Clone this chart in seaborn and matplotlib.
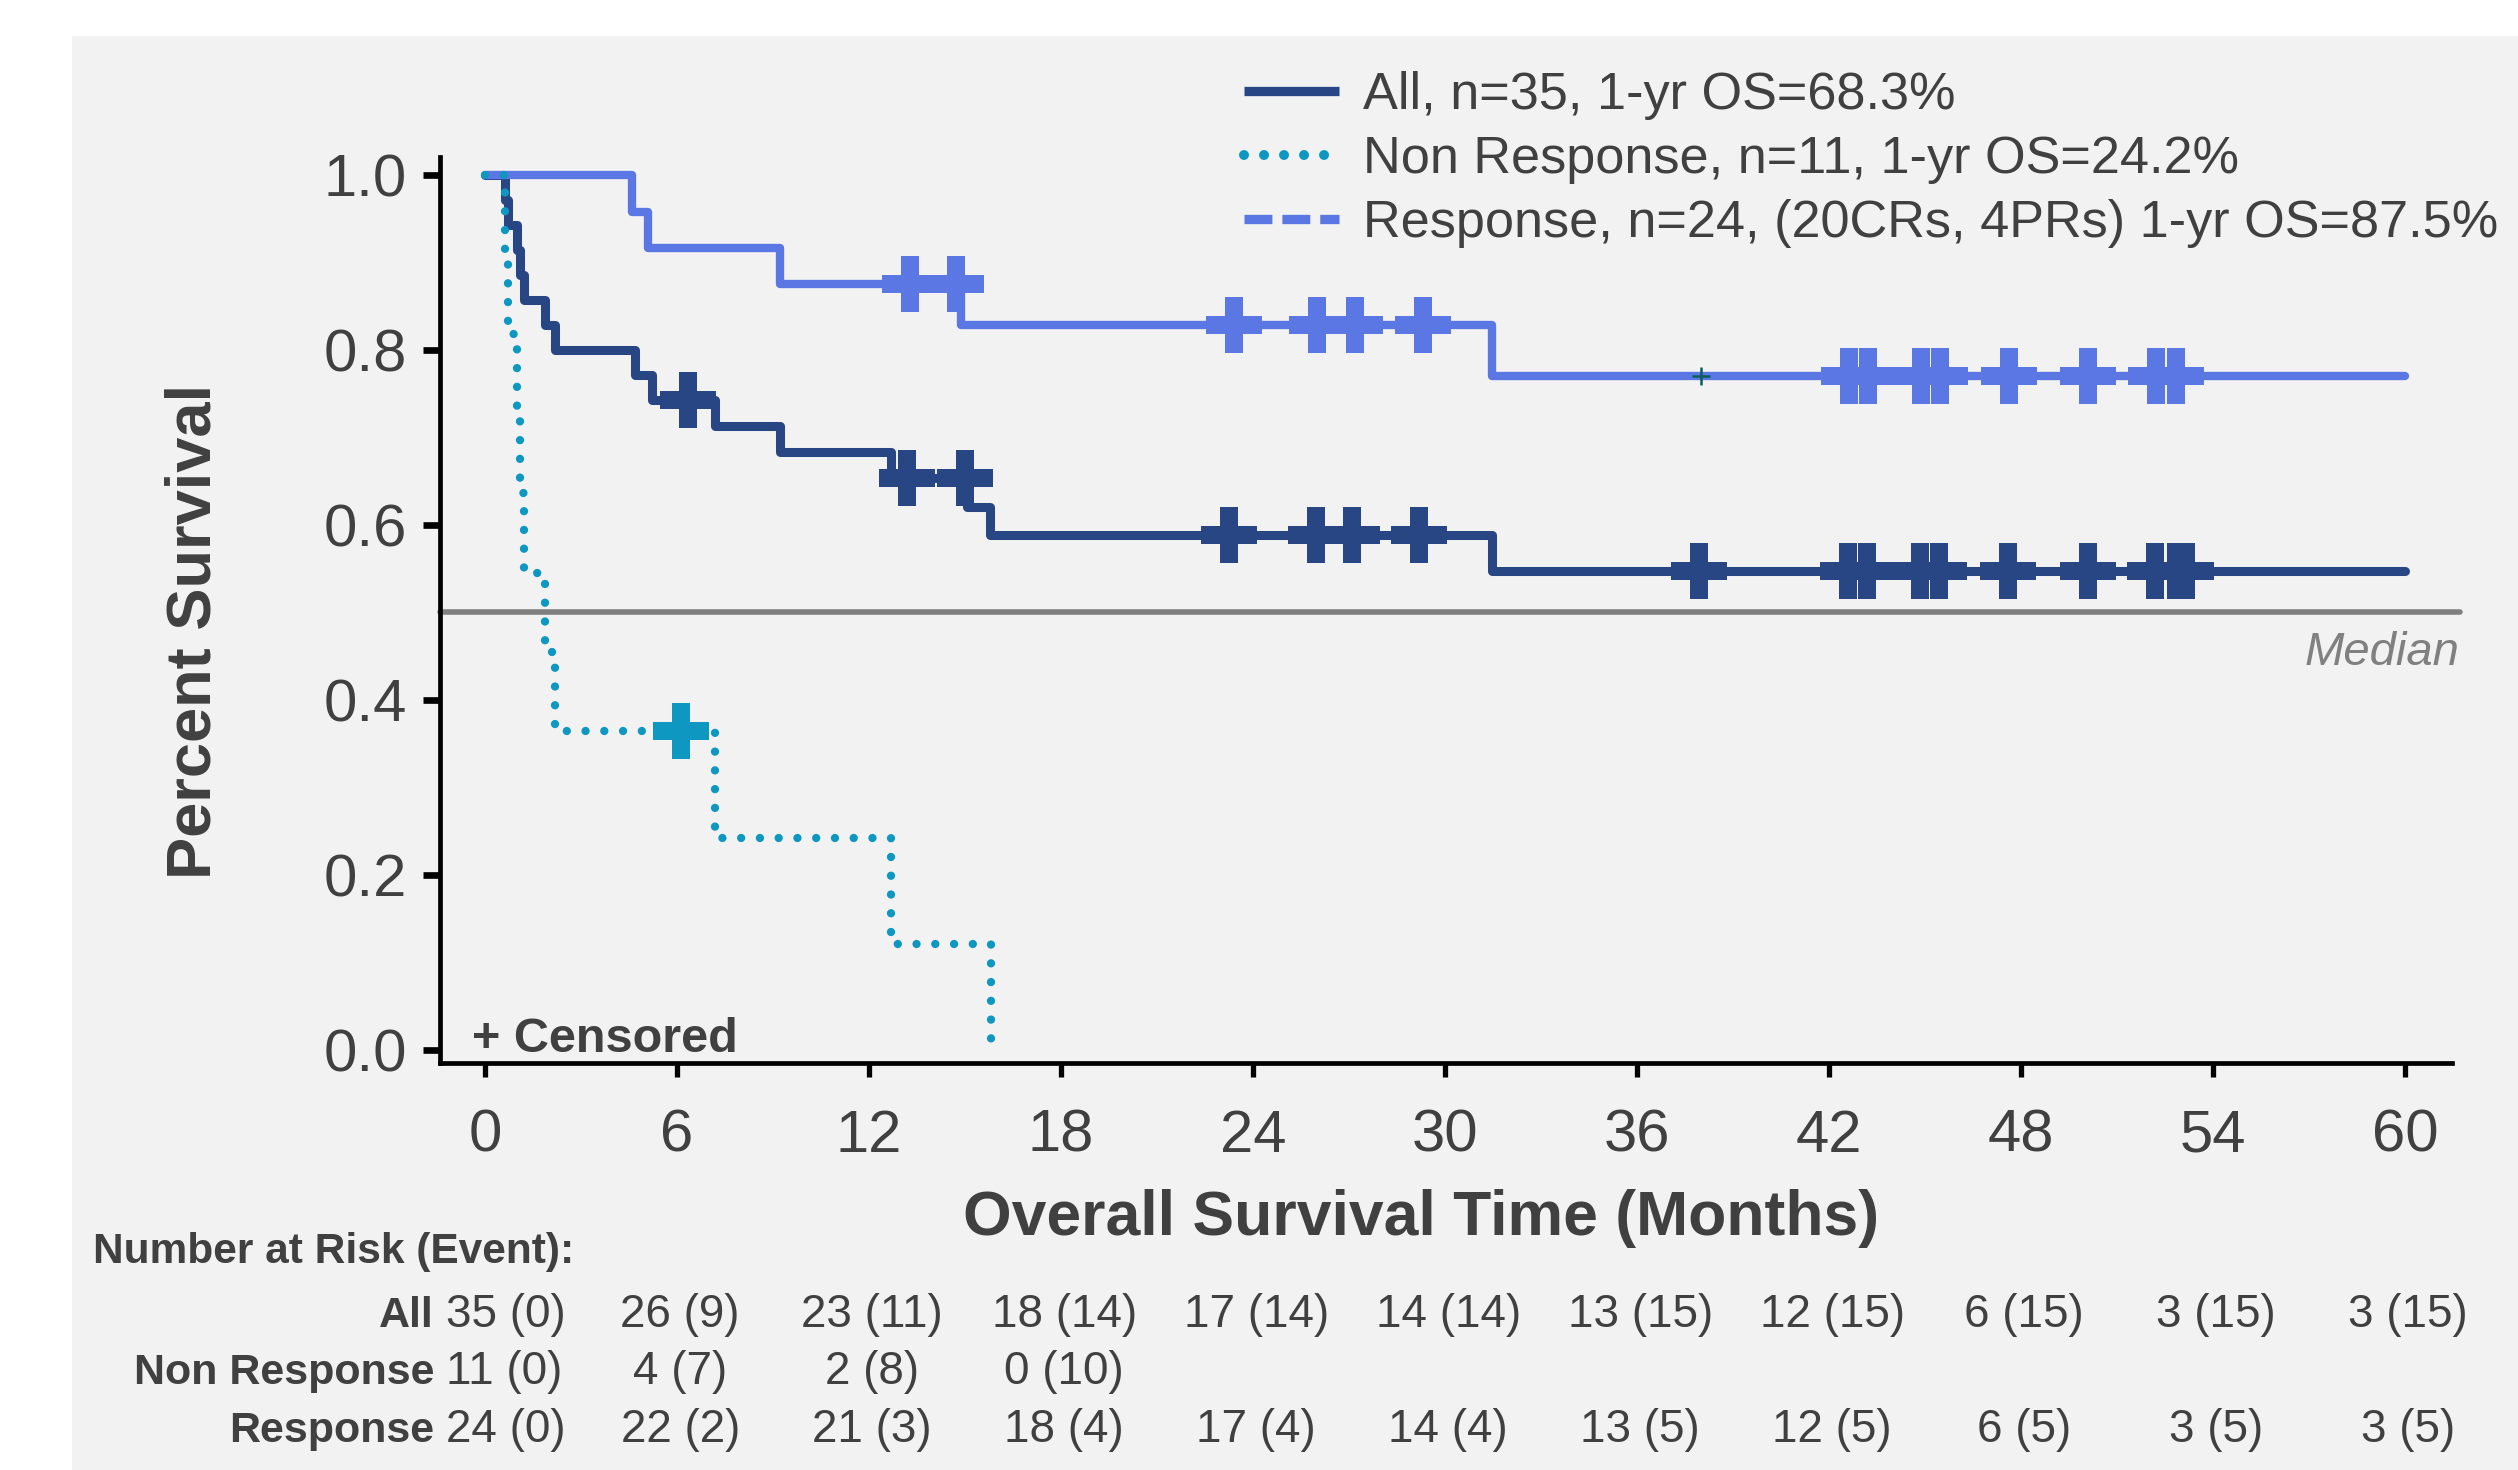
import numpy as np
import matplotlib
matplotlib.use("Agg")
import matplotlib.pyplot as plt
import seaborn as sns
from matplotlib.lines import Line2D
from matplotlib.patches import Rectangle
from matplotlib.transforms import blended_transform_factory

# ---------------- data ----------------
# Kaplan-Meier step curves: time of each step (months) and survival after the step
all_t = [0, 0.64, 0.71, 1.0, 1.09, 1.23, 1.86, 2.2, 4.7, 5.23, 7.19, 9.21, 12.7, 15.07, 15.77, 31.47, 60]
all_s = [1.0, 0.971, 0.943, 0.914, 0.886, 0.857, 0.829, 0.800, 0.771, 0.743, 0.713, 0.683, 0.654, 0.621, 0.589, 0.547, 0.547]

nr_t = [0, 0.64, 0.71, 1.0, 1.09, 1.23, 1.86, 2.2, 7.2, 12.68, 15.8]
nr_s = [1.0, 0.909, 0.818, 0.727, 0.636, 0.545, 0.455, 0.364, 0.242, 0.121, 0.0]

resp_t = [0, 4.6, 5.09, 9.21, 14.86, 31.47, 60]
resp_s = [1.0, 0.958, 0.917, 0.875, 0.829, 0.770, 0.770]

# censoring times (months)
all_cens = [6.35, 13.18, 15.0, 23.26, 25.96, 27.08, 29.19, 37.95, 42.6, 43.2, 44.85,
            45.45, 47.6, 50.1, 52.2, 52.85, 53.15]
nr_cens = [6.14]
resp_cens = [13.27, 14.71, 23.4, 26.0, 27.2, 29.3, 42.63, 43.23, 44.86, 45.47, 47.64,
             50.09, 52.23, 52.83]
resp_cens_faint = [38.0]

# number at risk table
risk_times = [0, 6, 12, 18, 24, 30, 36, 42, 48, 54, 60]
all_risk = [35, 26, 23, 18, 17, 14, 13, 12, 6, 3, 3]
all_events = [0, 9, 11, 14, 14, 14, 15, 15, 15, 15, 15]
nr_risk = [11, 4, 2, 0]
nr_events = [0, 7, 8, 10]
resp_risk = [24, 22, 21, 18, 17, 14, 13, 12, 6, 3, 3]
resp_events = [0, 2, 3, 4, 4, 4, 5, 5, 5, 5, 5]

legend_labels = ["All, n=35, 1-yr OS=68.3%",
                 "Non Response, n=11, 1-yr OS=24.2%",
                 "Response, n=24, (20CRs, 4PRs) 1-yr OS=87.5%"]
row_labels = ["All", "Non Response", "Response"]
y_ticks = [0.0, 0.2, 0.4, 0.6, 0.8, 1.0]

# ---------------- style ----------------
C_ALL = "#284584"
C_NR = "#0e97c1"
C_RESP = "#5b77e3"
TXT = "#404040"
PANEL = "#f2f2f2"

sns.set_theme(style="ticks")
plt.rcParams["font.family"] = ["Liberation Sans", "DejaVu Sans"]

W, H, DPI = 2518, 1470, 100
fig = plt.figure(figsize=(W / DPI, H / DPI), dpi=DPI, facecolor="white")


def fx(p):
    return p / W


def fy(p):
    return 1 - p / H


fig.patches.append(Rectangle((fx(72), 0), 1 - fx(72), fy(36), transform=fig.transFigure,
                             facecolor=PANEL, edgecolor="none", zorder=-10))

ax = fig.add_axes([fx(439.5), fy(1063), fx(2451.7) - fx(439.5), fy(157) - fy(1063)])
ax.set_facecolor("none")


def levels(t, s, c):
    idx = np.searchsorted(np.asarray(t), np.asarray(c), side="right") - 1
    return np.asarray(s)[idx]


ax.axhline(0.5, xmin=0, xmax=1.004, color="#808080", lw=4, zorder=1, clip_on=False)

sns.lineplot(x=all_t, y=all_s, ax=ax, drawstyle="steps-post", estimator=None, sort=False,
             color=C_ALL, linewidth=6.5, zorder=2, legend=False)
sns.scatterplot(x=all_cens, y=levels(all_t, all_s, all_cens), ax=ax, marker="P", s=1600,
                color=C_ALL, linewidth=0, zorder=2.5, legend=False)

sns.lineplot(x=resp_t, y=resp_s, ax=ax, drawstyle="steps-post", estimator=None, sort=False,
             color=C_RESP, linewidth=6.0, zorder=3, legend=False)
sns.scatterplot(x=resp_cens, y=levels(resp_t, resp_s, resp_cens), ax=ax, marker="P", s=1600,
                color=C_RESP, linewidth=0, zorder=3.5, legend=False)
sns.scatterplot(x=resp_cens_faint, y=levels(resp_t, resp_s, resp_cens_faint), ax=ax,
                marker="+", s=150, color="#0b5e5b", linewidth=1.8, zorder=3.6, legend=False)

sns.lineplot(x=nr_t, y=nr_s, ax=ax, drawstyle="steps-post", estimator=None, sort=False,
             color=C_NR, linewidth=6.0, zorder=4, legend=False)
nr_line = ax.lines[-1]
nr_line.set_linestyle((0, (0.001, 2.25)))
nr_line.set_dash_capstyle("round")
sns.scatterplot(x=nr_cens, y=levels(nr_t, nr_s, nr_cens), ax=ax, marker="P", s=1600,
                color=C_NR, linewidth=0, zorder=4.5, legend=False)

# axes
ax.set_xlim(-1.422, 61.46)
ax.set_ylim(-0.01486, 1.02057)
ax.set_xticks(risk_times)
ax.set_yticks(y_ticks)
ax.set_yticklabels([f"{v:.1f}" for v in y_ticks])
sns.despine(ax=ax)
for side in ("left", "bottom"):
    ax.spines[side].set_linewidth(3.4)
    ax.spines[side].set_color("black")
ax.tick_params(axis="x", length=10, width=3.8, pad=23, labelsize=43, labelcolor=TXT,
               color="black", direction="out")
ax.tick_params(axis="y", length=12.6, width=4.8, pad=10.8, labelsize=43, labelcolor=TXT,
               color="black", direction="out")
ax.grid(False)

ax.set_xlabel("Overall Survival Time (Months)", fontsize=45, fontweight="bold", color=TXT)
ax.xaxis.set_label_coords(0.48777, (1063 - 1235) / 906)
ax.xaxis.label.set_va("baseline")
ax.set_ylabel("Percent Survival", fontsize=45.5, fontweight="bold", color=TXT)
ax.yaxis.set_label_coords((193.6 - 439.5) / 2012.2, 0.4768)
ax.yaxis.label.set_va("center")

# legend
handles = [
    Line2D([], [], color=C_ALL, lw=6.7, solid_capstyle="butt"),
    Line2D([], [], color=C_NR, lw=7.2, linestyle=(0, (0.001, 2.0)), dash_capstyle="round"),
    Line2D([], [], color=C_RESP, lw=6.7, linestyle=(0, (3.0, 1.07)), dash_capstyle="butt"),
]
leg = ax.legend(handles, legend_labels, loc="upper left", bbox_to_anchor=(fx(1244), fy(71.5)),
                bbox_transform=fig.transFigure, frameon=False, fontsize=37.6, handlelength=1.82,
                handletextpad=0.45, labelspacing=0.285, borderpad=0, borderaxespad=0)
for t in leg.get_texts():
    t.set_color(TXT)

# annotations
fig.text(fx(471.7), fy(1051.7), "+ Censored", fontsize=35, fontweight="bold", color=TXT,
         ha="left", va="baseline")
fig.text(fx(2459), fy(665), "Median", fontsize=34, style="italic", color="#808080",
         ha="right", va="baseline")

# number at risk table
fig.text(fx(93), fy(1263), "Number at Risk (Event):", fontsize=30.5, fontweight="bold",
         color=TXT, ha="left", va="baseline")
trans = blended_transform_factory(ax.transData, fig.transFigure)
rows = [(all_risk, all_events, 1327), (nr_risk, nr_events, 1384), (resp_risk, resp_events, 1442)]
for label, (risk, ev, base) in zip(row_labels, rows):
    fig.text(fx(434), fy(base), label, fontsize=31, fontweight="bold", color=TXT,
             ha="right", va="baseline")
    for i, (n, e) in enumerate(zip(risk, ev)):
        if i == 0:
            ax.text(-1.22, fy(base), f"{n} ({e})", transform=trans, fontsize=33, color=TXT,
                    ha="left", va="baseline", clip_on=False)
        else:
            ax.text(risk_times[i] + 0.1, fy(base), f"{n} ({e})", transform=trans, fontsize=33,
                    color=TXT, ha="center", va="baseline", clip_on=False)

fig.savefig("out.png", dpi=DPI, facecolor=fig.get_facecolor())
